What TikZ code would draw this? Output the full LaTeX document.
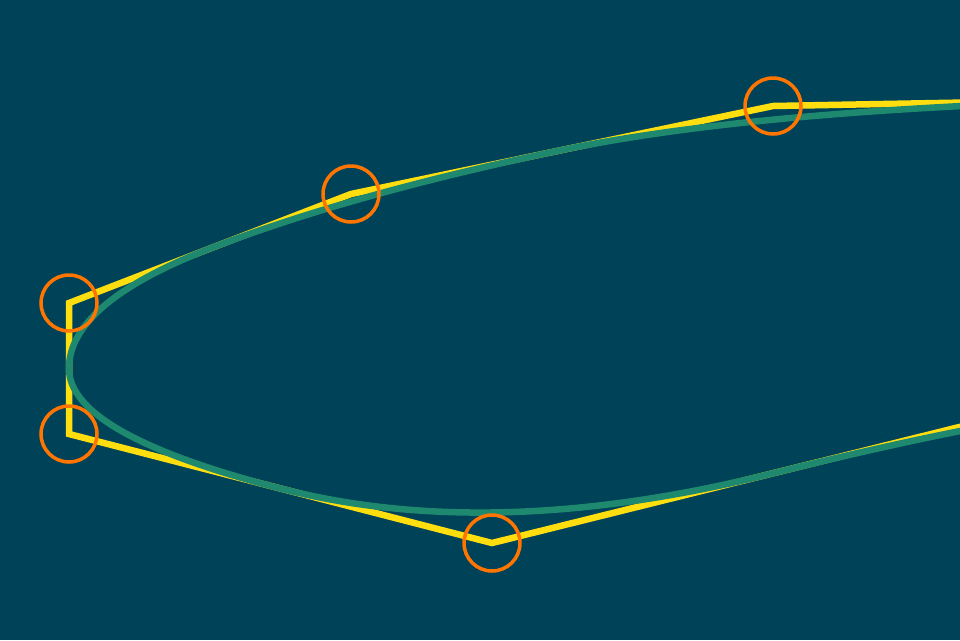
\documentclass[tikz,border=0pt]{standalone}
\usetikzlibrary{calc}
\definecolor{bgteal}{RGB}{0,67,88}
\definecolor{hullyellow}{RGB}{255,222,16}
\definecolor{curvegreen}{RGB}{30,137,110}
\definecolor{ringorange}{RGB}{255,117,0}
\newcommand{\ring}{node[draw=ringorange,line width=2pt,circle,inner sep=0pt,minimum size=1.12cm]{}}

\begin{document}
\begin{tikzpicture}[x=0.02cm,y=-0.02cm]
\fill[bgteal] (0,0) rectangle (960,640);
\useasboundingbox (0,0) rectangle (960,640);
\clip (0,0) rectangle (960,640);

% control points, p0 and p6/p7 lie off the page
\coordinate (p0) at (1600,91);
\coordinate (p1) at (773,106);
\coordinate (p2) at (351,194);
\coordinate (p3) at (69,303);
\coordinate (p4) at (69,434);
\coordinate (p5) at (492,543);
\coordinate (p6) at (1048,405);
\coordinate (p7) at (1300,400);
\foreach \i/\j in {0/1,1/2,2/3,3/4,4/5,5/6,6/7}
	\coordinate (m\i) at ($(p\i)!0.5!(p\j)$);

\draw[hullyellow,line width=3.7pt] (p0) -- (p1) -- (p2) -- (p3) -- (p4) -- (p5) -- (p6) -- (p7);

% quadratic b-spline through the edge midpoints
\draw[curvegreen,line width=3.7pt] (m0)
	\foreach \i/\k in {1/0,2/1,3/2,4/3,5/4,6/5} {
		.. controls ($(m\k)!2/3!(p\i)$) and ($(m\i)!2/3!(p\i)$) .. (m\i)
	};

\foreach \i in {1,...,5}
	\draw (p\i) \ring;
\end{tikzpicture}
\end{document}
